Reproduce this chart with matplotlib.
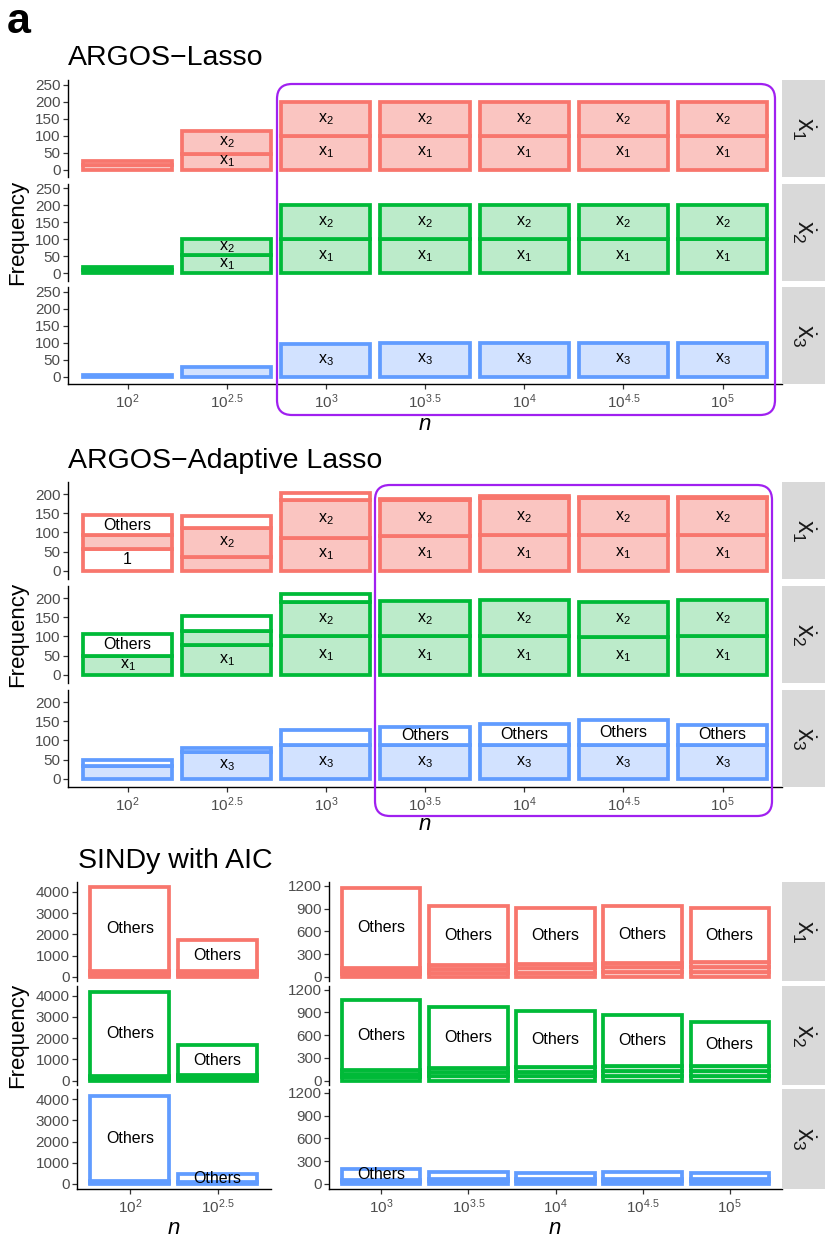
import matplotlib
matplotlib.use('Agg')
import matplotlib.pyplot as plt
from matplotlib.patches import FancyBboxPatch

plt.rcParams['font.family'] = ['Liberation Sans', 'DejaVu Sans']
plt.rcParams['mathtext.fontset'] = 'custom'
plt.rcParams['mathtext.rm'] = 'Liberation Sans'
plt.rcParams['mathtext.it'] = 'Liberation Sans:italic'
plt.rcParams['mathtext.bf'] = 'Liberation Sans:bold'

# ---------------- data ----------------
N_EXP_ALL = ['2', '2.5', '3', '3.5', '4', '4.5', '5']
N_EXP_SMALL = ['2', '2.5']
N_EXP_LARGE = ['3', '3.5', '4', '4.5', '5']
EQUATIONS = ['1', '2', '3']

# each entry: per sample size, stacked segments (count, 'c' = true term / 'w' = other, label)
LASSO_X1 = [
    [(14, 'c', ''), (10, 'c', '')],
    [(47, 'c', 'x1'), (68, 'c', 'x2')],
    [(100, 'c', 'x1'), (100, 'c', 'x2')],
    [(100, 'c', 'x1'), (100, 'c', 'x2')],
    [(100, 'c', 'x1'), (100, 'c', 'x2')],
    [(100, 'c', 'x1'), (100, 'c', 'x2')],
    [(100, 'c', 'x1'), (100, 'c', 'x2')],
]
LASSO_X2 = [
    [(10, 'c', ''), (8, 'c', '')],
    [(54, 'c', 'x1'), (46, 'c', 'x2')],
    [(100, 'c', 'x1'), (100, 'c', 'x2')],
    [(100, 'c', 'x1'), (100, 'c', 'x2')],
    [(100, 'c', 'x1'), (100, 'c', 'x2')],
    [(100, 'c', 'x1'), (100, 'c', 'x2')],
    [(100, 'c', 'x1'), (100, 'c', 'x2')],
]
LASSO_X3 = [
    [(4, 'c', '')],
    [(28, 'c', '')],
    [(95, 'c', 'x3')],
    [(100, 'c', 'x3')],
    [(100, 'c', 'x3')],
    [(100, 'c', 'x3')],
    [(100, 'c', 'x3')],
]

ADA_X1 = [
    [(57, 'w', '1'), (36, 'c', ''), (52, 'w', 'Others')],
    [(35, 'c', ''), (77, 'c', 'x2'), (30, 'w', '')],
    [(85, 'c', 'x1'), (100, 'c', 'x2'), (17, 'w', '')],
    [(90, 'c', 'x1'), (95, 'c', 'x2'), (2, 'w', '')],
    [(92, 'c', 'x1'), (98, 'c', 'x2'), (4, 'w', '')],
    [(92, 'c', 'x1'), (97, 'c', 'x2'), (4, 'w', '')],
    [(92, 'c', 'x1'), (98, 'c', 'x2'), (3, 'w', '')],
]
ADA_X2 = [
    [(50, 'c', 'x1'), (56, 'w', 'Others')],
    [(78, 'c', 'x1'), (35, 'c', ''), (40, 'w', '')],
    [(101, 'c', 'x1'), (89, 'c', 'x2'), (20, 'w', '')],
    [(100, 'c', 'x1'), (92, 'c', 'x2')],
    [(100, 'c', 'x1'), (96, 'c', 'x2')],
    [(98, 'c', 'x1'), (92, 'c', 'x2')],
    [(100, 'c', 'x1'), (94, 'c', 'x2')],
]
ADA_X3 = [
    [(33, 'c', ''), (16, 'w', '')],
    [(71, 'c', 'x3'), (9, 'w', '')],
    [(88, 'c', 'x3'), (40, 'w', '')],
    [(88, 'c', 'x3'), (48, 'w', 'Others')],
    [(88, 'c', 'x3'), (55, 'w', 'Others')],
    [(88, 'c', 'x3'), (66, 'w', 'Others')],
    [(88, 'c', 'x3'), (53, 'w', 'Others')],
]

SINDY_SMALL_X1 = [
    [(70, 'c', ''), (70, 'c', ''), (70, 'c', ''), (70, 'c', ''), (3940, 'w', 'Others')],
    [(70, 'c', ''), (70, 'c', ''), (70, 'c', ''), (70, 'c', ''), (1460, 'w', 'Others')],
]
SINDY_SMALL_X2 = [
    [(60, 'c', ''), (60, 'c', ''), (60, 'c', ''), (60, 'c', ''), (3925, 'w', 'Others')],
    [(90, 'c', ''), (90, 'c', ''), (90, 'c', ''), (1390, 'w', 'Others')],
]
SINDY_SMALL_X3 = [
    [(60, 'c', ''), (60, 'c', ''), (4000, 'w', 'Others')],
    [(85, 'c', ''), (376, 'w', 'Others')],
]
SINDY_LARGE_X1 = [
    [(40, 'c', ''), (40, 'c', ''), (41, 'c', ''), (1056, 'w', 'Others')],
    [(52, 'c', ''), (52, 'c', ''), (53, 'c', ''), (778, 'w', 'Others')],
    [(55, 'c', ''), (55, 'c', ''), (55, 'c', ''), (748, 'w', 'Others')],
    [(62, 'c', ''), (62, 'c', ''), (63, 'c', ''), (752, 'w', 'Others')],
    [(64, 'c', ''), (64, 'c', ''), (63, 'c', ''), (713, 'w', 'Others')],
]
SINDY_LARGE_X2 = [
    [(45, 'c', ''), (45, 'c', ''), (45, 'c', ''), (932, 'w', 'Others')],
    [(55, 'c', ''), (55, 'c', ''), (55, 'c', ''), (805, 'w', 'Others')],
    [(58, 'c', ''), (58, 'c', ''), (58, 'c', ''), (748, 'w', 'Others')],
    [(62, 'c', ''), (62, 'c', ''), (63, 'c', ''), (673, 'w', 'Others')],
    [(62, 'c', ''), (62, 'c', ''), (63, 'c', ''), (581, 'w', 'Others')],
]
SINDY_LARGE_X3 = [
    [(27, 'c', ''), (28, 'c', ''), (140, 'w', 'Others')],
    [(35, 'c', ''), (34, 'c', ''), (83, 'w', '')],
    [(35, 'c', ''), (34, 'c', ''), (81, 'w', '')],
    [(35, 'c', ''), (35, 'c', ''), (87, 'w', '')],
    [(34, 'c', ''), (34, 'c', ''), (79, 'w', '')],
]

EDGE = ['#F8766D', '#00BA38', '#619CFF']
LIGHT = ['#FAC5C1', '#BCEBCA', '#D2E2FF']
PURPLE = '#A020F0'

# ---------------- layout helpers ----------------
W, H = 830, 1246
fig = plt.figure(figsize=(W / 100, H / 100), dpi=100)
TICK_FS = 11


def add_ax(x0, y0, x1, y1, **kw):
    return fig.add_axes([x0 / W, 1 - y1 / H, (x1 - x0) / W, (y1 - y0) / H], **kw)


def fmt(lab):
    if lab.startswith('x'):
        return r'$\mathrm{x}_{%s}$' % lab[1:]
    return lab


def draw_row(ax, data, k, ylim, yticks, xlabels, bottom_row):
    for i, segs in enumerate(data):
        b = 0
        for cnt, kind, lab in segs:
            fc = LIGHT[k] if kind == 'c' else 'white'
            ax.bar(i, cnt, bottom=b, width=0.9, color=fc, edgecolor=EDGE[k],
                   linewidth=2.7, zorder=2)
            if lab:
                ax.text(i, b + cnt / 2, fmt(lab), ha='center', va='center',
                        fontsize=11.5, color='black', zorder=3)
            b += cnt
    ax.set_xlim(-0.6, len(data) - 0.4)
    ax.set_ylim(*ylim)
    ax.set_yticks(yticks)
    ax.set_yticklabels([str(t) for t in yticks])
    for s in ['top', 'right']:
        ax.spines[s].set_visible(False)
    ax.spines['left'].set_linewidth(1.0)
    ax.spines['bottom'].set_linewidth(1.0)
    ax.patch.set_alpha(0)
    ax.tick_params(axis='y', length=3.8, width=0.9, color='#333333',
                   labelcolor='#4D4D4D', labelsize=TICK_FS, pad=1.5)
    ax.set_xticks(range(len(data)))
    if bottom_row:
        ax.set_xticklabels([r'$10^{%s}$' % e for e in xlabels])
        ax.tick_params(axis='x', length=3.8, width=0.9, color='#333333',
                       labelcolor='#4D4D4D', labelsize=TICK_FS, pad=2.5)
    else:
        ax.spines['bottom'].set_visible(False)
        ax.tick_params(axis='x', length=0, labelbottom=False)


def strip(y0, y1, k):
    sa = add_ax(782, y0, 825, y1)
    sa.set_facecolor('#D9D9D9')
    sa.set_xticks([]); sa.set_yticks([])
    for s in sa.spines.values():
        s.set_visible(False)
    sa.text(0.5, 0.5, r'$\dot{\mathrm{x}}_{%s}$' % EQUATIONS[k], rotation=270,
            ha='center', va='center', fontsize=18, color='#1A1A1A',
            transform=sa.transAxes)


# Panel 1: ARGOS-Lasso
rows1 = [80, 183.5, 287]
h1 = 97
for k, (data, top) in enumerate(zip([LASSO_X1, LASSO_X2, LASSO_X3], rows1)):
    ax = add_ax(68, top, 782, top + h1)
    draw_row(ax, data, k, (-22, 264), [0, 50, 100, 150, 200, 250], N_EXP_ALL, k == 2)
    strip(top, top + h1, k)

# Panel 2: ARGOS-Adaptive Lasso
rows2 = [482, 586, 690]
h2 = 97
for k, (data, top) in enumerate(zip([ADA_X1, ADA_X2, ADA_X3], rows2)):
    ax = add_ax(68, top, 782, top + h2)
    draw_row(ax, data, k, (-21.5, 231.5), [0, 50, 100, 150, 200], N_EXP_ALL, k == 2)
    strip(top, top + h2, k)

# Panel 3: SINDy with AIC
rows3 = [882, 985.9, 1089.2]
h3 = 99.3
for k, (ds, dl, top) in enumerate(zip([SINDY_SMALL_X1, SINDY_SMALL_X2, SINDY_SMALL_X3],
                                      [SINDY_LARGE_X1, SINDY_LARGE_X2, SINDY_LARGE_X3], rows3)):
    axl = add_ax(77, top, 270.5, top + h3)
    draw_row(axl, ds, k, (-212, 4462), [0, 1000, 2000, 3000, 4000], N_EXP_SMALL, k == 2)
    axr = add_ax(329, top, 782, top + h3)
    draw_row(axr, dl, k, (-60, 1250), [0, 300, 600, 900, 1200], N_EXP_LARGE, k == 2)
    strip(top, top + h3, k)

# ---------------- overlay: titles, labels, highlight boxes ----------------
ov = fig.add_axes([0, 0, 1, 1], zorder=10)
ov.set_xlim(0, W)
ov.set_ylim(H, 0)
ov.axis('off')
ov.patch.set_alpha(0)

ov.text(7, 33, 'a', fontsize=31, fontweight='bold', va='baseline', ha='left')
ov.text(68, 65, 'ARGOS\u2212Lasso', fontsize=20.5, va='baseline', ha='left')
ov.text(68, 468, 'ARGOS\u2212Adaptive Lasso', fontsize=20.5, va='baseline', ha='left')
ov.text(78, 868, 'SINDy with AIC', fontsize=20.5, va='baseline', ha='left')

for yc in [232, 634.5, 1035]:
    ov.text(18, yc, 'Frequency', rotation=90, fontsize=16, ha='center', va='center')

for xc, yc in [(425, 424), (425, 825), (174, 1228), (555, 1228)]:
    ov.text(xc, yc, 'n', fontsize=16, style='italic', ha='center', va='center')

for (x0, y0, x1, y1) in [(277, 84, 775, 415), (375, 485, 772, 816)]:
    ov.add_patch(FancyBboxPatch((x0, y0), x1 - x0, y1 - y0,
                                boxstyle='round,pad=0,rounding_size=15',
                                fill=False, ec=PURPLE, lw=1.6))

fig.savefig('out.png', dpi=100)
